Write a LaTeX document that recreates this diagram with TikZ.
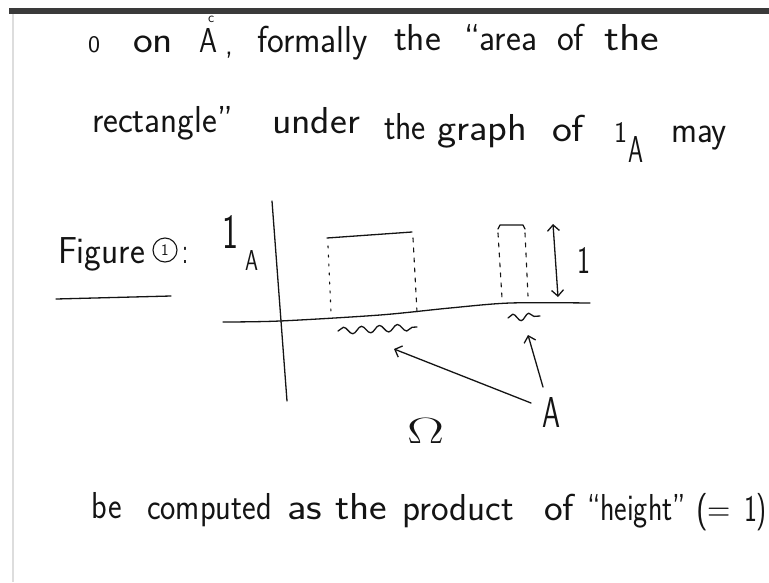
\documentclass[tikz,border=0pt]{standalone}
\usepackage{graphicx}
\usetikzlibrary{arrows.meta,decorations.pathmorphing}
\definecolor{ink}{HTML}{141414}
\definecolor{barcol}{HTML}{3A3A3A}
\definecolor{edgecol}{HTML}{DDDDDD}
\newcommand\hw[2]{\resizebox{#1pt}{1.25\height}{#2}}
\newcommand\gl[3]{\resizebox{#1pt}{#2pt}{#3}}
\begin{document}
\begin{tikzpicture}[x=1pt,y=-1pt,
  word/.style={inner sep=0pt, outer sep=0pt, anchor=base west, text=ink,
    font=\sffamily\fontsize{30}{36}\selectfont},
  pen/.style={line width=1.3pt, draw=ink, line cap=round, line join=round},
  hd/.style={-{Straight Barb[length=6pt,width=12pt]}},
  hdd/.style={{Straight Barb[length=6pt,width=12pt]}-{Straight Barb[length=6pt,width=12pt]}},
  dsh/.style={pen, line width=1.1pt, dash pattern=on 4pt off 6pt},
  wav/.style={pen, decorate, decoration={snake, segment length=18pt, amplitude=3.5pt}}]
\useasboundingbox (0,0) rectangle (769,582);
\clip (0,0) rectangle (769,582);
\fill[white] (0,0) rectangle (769,582);
% page frame
\fill[barcol] (9,8) rectangle (769,14);
\draw[edgecol, line width=1.5pt] (13,14) -- (13,582);

% line 1
\node[word] (t1) at (88,52) {\gl{12}{16}{0}};
\node[word] (t2) at (133,52) {\hw{40}{on}};
\node[word] (t3) at (199,52) {\gl{18}{24}{A}};
\node[word, font=\sffamily\fontsize{14}{16}\selectfont] (t3c) at (208,22) {c};
\node[word] (t4) at (225,54) {,};
\node[word] (t5) at (257,52) {\hw{111}{formally}};
\node[word] (t6) at (394,50) {\hw{47}{the}};
\node[word] (t7) at (464,50) {\hw{73}{``area}};
\node[word] (t8) at (557,50) {\hw{27}{of}};
\node[word] (t9) at (604,50) {\hw{55}{the}};

% line 2
\node[word] (u1) at (92,132) {\hw{141}{rectangle''}};
\node[word] (u2) at (272,133) {\hw{88}{under}};
\node[word] (u3) at (384,139) {\hw{42}{the}};
\node[word] (u4) at (437,140) {\hw{90}{graph}};
\node[word] (u5) at (552,141) {\hw{32}{of}};
\node[word] (u6) at (614,142) {\gl{13}{20}{1}};
\node[word] (u6a) at (628,162) {\gl{15}{26}{A}};
\node[word] (u7) at (671,142) {\hw{56}{may}};

% figure label
\node[word] (fg) at (58,263) {\hw{87}{Figure}};
\node[circle, draw=ink, line width=1.1pt, minimum size=24pt, inner sep=0pt, text=ink,
  font=\sffamily\fontsize{16}{18}\selectfont] (fc) at (165,250) {1};
\node[word] (fcol) at (182,263) {\hw{6}{:}};
\draw[pen] (56,299) -- (171,296);

% graph
\node[word] (ya) at (222,248) {\gl{16}{33}{1}};
\node[word] (yaA) at (245,270) {\gl{13}{20}{A}};
\draw[pen] (272,201) -- (287,401);
\draw[pen] plot[smooth] coordinates {(223,322) (280,321) (380,315) (450,308) (510,303) (590,303)};
% rectangle 1
\draw[pen] (327,238) -- (412,232);
\draw[dsh, dash pattern=on 2pt off 7pt] (328,246) -- (331,312);
\draw[dsh] (413,238) -- (417,312);
% rectangle 2
\draw[pen] (498,229) -- (500,225) -- (523,225) -- (525,229);
\draw[dsh] (498,233) -- (502,298);
\draw[dsh] (525,233) -- (528,296);
% height arrow
\coordinate (h1) at (553,224);
\coordinate (h2) at (558,297);
\draw[pen, hdd] (h1) -- (h2);
\node[word] (one) at (577,273) {\gl{13}{26}{1}};
% wavy marks for A
\draw[wav] (338,331) -- (417,327);
\draw[wav, decoration={snake, segment length=16pt, amplitude=3.5pt}] (508,318) -- (540,316);
% label A with arrows
\node[word] (lA) at (542,427) {\gl{18}{30}{A}};
\coordinate (p1) at (531,403);
\coordinate (q1) at (394,349);
\coordinate (p2) at (543,387);
\coordinate (q2) at (528,335);
\draw[pen, hd] (p1) -- (q1);
\draw[pen, hd] (p2) -- (q2);
\node[word] (om) at (407,443) {\gl{37}{25}{$\Omega$}};

% line 3
\node[word] (v1) at (92,518) {\hw{30}{be}};
\node[word] (v2) at (147,519) {\hw{125}{computed}};
\node[word] (v3) at (287,519) {\hw{35}{as}};
\node[word] (v4) at (335,519) {\hw{52}{the}};
\node[word] (v5) at (402,520) {\hw{112}{product}};
\node[word] (v6) at (544,520) {\hw{30}{of}};
\node[word] (v7) at (587,520) {\hw{99}{``height''}};
\node[word] (v8) at (696,521) {\hw{35}{(=}};
\node[word] (v9) at (744,521) {\hw{23}{1)}};
\end{tikzpicture}
\end{document}
